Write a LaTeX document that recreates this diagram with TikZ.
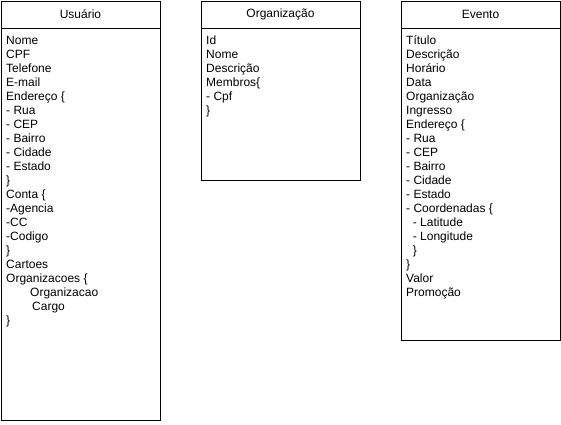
\documentclass[tikz,border=0pt]{standalone}
\usepackage{fontspec}
\setmainfont{Liberation Sans}
\begin{document}
\begin{tikzpicture}[x=1pt,y=-1pt,
  entity/.style={draw=black,line width=1pt,anchor=north west,inner sep=0pt,minimum width=159pt},
  txt/.style={anchor=base west,inner sep=0pt,font=\fontsize{12}{14}\selectfont},
  title/.style={inner sep=0pt,font=\fontsize{12}{14}\selectfont}]
\useasboundingbox (0,0) rectangle (561,424);
\fill[white] (0,0) rectangle (561,424);
% boxes
\node[entity,minimum height=419pt] (usr) at (1,1) {};
\node[entity,minimum height=179pt] (org) at (201,1) {};
\node[entity,minimum height=339pt] (evt) at (401,1) {};
% header separators
\coordinate (usrA) at (1,28); \coordinate (usrB) at (160,28);
\coordinate (orgA) at (201,28); \coordinate (orgB) at (360,28);
\coordinate (evtA) at (401,28); \coordinate (evtB) at (560,28);
\draw[line width=1pt] (usrA) -- (usrB);
\draw[line width=1pt] (orgA) -- (orgB);
\draw[line width=1pt] (evtA) -- (evtB);
% titles
\node[title] (usrt) at (80.5,14.5) {Usuário};
\node[title] (orgt) at (280.5,14.5) {Organização};
\node[title] (evtt) at (480.5,14.5) {Evento};
% Usuario fields
\foreach \t [count=\i from 0] in {Nome,CPF,Telefone,E-mail,Endereço \{,- Rua,- CEP,- Bairro,- Cidade,- Estado,\},Conta \{,-Agencia,-CC,-Codigo,\},Cartoes,Organizacoes \{,\hspace{24pt}Organizacao,\hspace{26pt}Cargo,\}}
  \node[txt] (u\i) at ({6},{44.3+14*\i}) {\t};
% Organizacao fields
\foreach \t [count=\i from 0] in {Id,Nome,Descrição,Membros\{,- Cpf,\}}
  \node[txt] (o\i) at ({206},{44.3+14*\i}) {\t};
% Evento fields
\foreach \t [count=\i from 0] in {Título,Descrição,Horário,Data,Organização,Ingresso,Endereço \{,- Rua,- CEP,- Bairro,- Cidade,- Estado,- Coordenadas \{,\hspace{6.7pt}- Latitude,\hspace{6.7pt}- Longitude,\hspace{6.7pt}\},\},Valor,Promoção}
  \node[txt] (e\i) at ({406},{44.3+14*\i}) {\t};
\end{tikzpicture}
\end{document}
